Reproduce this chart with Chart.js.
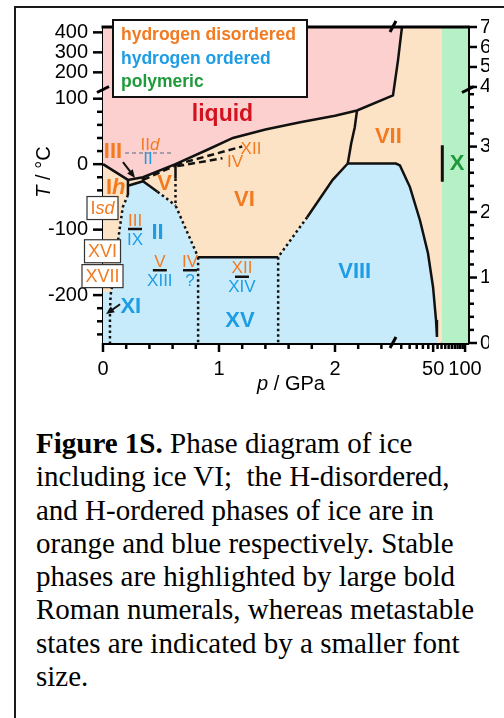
<!DOCTYPE html>
<html>
<head>
<meta charset="utf-8">
<script src="https://cdn.jsdelivr.net/npm/chart.js@4/dist/chart.umd.min.js"></script>
<style>
    html, body { margin: 0; padding: 0; background: #fff; overflow: hidden; }
    body { width: 504px; height: 718px; position: relative; }
    .frame { position: absolute; left: 14px; top: 6px; width: 600px; height: 800px;
        border-left: 2px solid #1a1a1a; border-top: 2px solid #1a1a1a; }
    #chart { position: absolute; left: 0; top: 0; }
    .caption { position: absolute; left: 36px; top: 427px; color: #000; white-space: nowrap;
        font-family: "Liberation Serif", "Times New Roman", serif; font-size: 29px; line-height: 33.3px; }
</style>
</head>
<body>
<div class="frame"></div>
<canvas id="chart" width="504" height="400"></canvas>
<div class="caption"><b>Figure 1S.</b> Phase diagram of ice<br>including ice VI;&nbsp; the H-disordered,<br>and H-ordered phases of ice are in<br>orange and blue respectively. Stable<br>phases are highlighted by large bold<br>Roman numerals, whereas metastable<br>states are indicated by a smaller font<br>size.</div>
<script>
// pressure in GPa, temperature in °C
const T_TOP = 426.85;      // 700 K
const T_BOTTOM = -273.15;  // 0 K

// melting curve (Ih, III, V, VI, VII)
const meltP = [0, 0.215, 0.345, 0.625, 0.9, 1.12, 1.4, 1.7, 2.0, 2.19, 2.5, 23.3, 25.4];
const meltT = [0, -24, -20, 0.2, 22, 40, 53, 64, 74, 82, 105, 260, 426.85];

// solid phase boundaries
const vi7P = [2.19, 2.17, 2.14, 2.11];
const vi7T = [82, 56, 32, 1];
const vii8P = [2.11, 22.3, 24.3, 30.2, 37.6, 44.7, 49.9, 53.2, 54.3];
const vii8T = [1, 1, -2, -35, -86, -136, -188, -238, -264];
const vi8P = [2.11, 1.98, 1.76];
const vi8T = [1, -24, -81];
const vi15P = [0.82, 1.51];
const vi15T = [-142, -142];
const v6P = [0.625, 0.625];
const v6T = [0.2, -22];
const ih3P = [0.215, 0.215];
const ih3T = [-24, -47];
const iii2P = [0.215, 0.345];
const iii2T = [-33, -26];
const iii5P = [0.345, 0.345];
const iii5T = [-20, -26];
const ii5P = [0.345, 0.47];
const ii5T = [-26, -42];

// dotted (uncertain) boundaries
const ih2DotP = [0.215, 0.17, 0.13, 0.09, 0.065, 0.06, 0.06];
const ih2DotT = [-47, -66, -116, -177, -200, -230, -273.15];
const ii5DotP = [0.47, 0.625];
const ii5DotT = [-42, -63];
const v6DotP = [0.625, 0.625, 0.82];
const v6DotT = [-22, -63, -142];
const vi8DotP = [1.76, 1.51];
const vi8DotT = [-81, -142];
const xv1P = [0.82, 0.82];
const xv1T = [-142, -273.15];
const xv2P = [1.51, 1.51];
const xv2T = [-142, -273.15];

// dashed (metastable) lines
const metaVP = [0.345, 0.625];
const metaVT = [-24, -2];
const metaXiiP = [0.625, 1.2];
const metaXiiT = [-1, 27];
const metaIvP = [0.64, 1.03];
const metaIvT = [-3, 9];
const iidP = [0.19, 0.6];
const iidT = [17, 17];

// ice X onset marker
const xBarP = [61, 61];
const xBarT = [29, -27];

// coloured phase fields
const baseP = [0, 0, 60, 60];
const baseT = [T_BOTTOM, T_TOP, T_TOP, T_BOTTOM];
const polyP = [60, 60, 110, 110];
const polyT = [T_BOTTOM, T_TOP, T_TOP, T_BOTTOM];
const liquidP = [0].concat(meltP);
const liquidT = [T_TOP].concat(meltT);
const orderedP = [0.215, 0.345, 0.47, 0.625, 0.82, 1.51, 1.76, 1.98, 2.11, 22.3, 24.3, 30.2, 37.6, 44.7,
    49.9, 53.2, 54.3, 54.4, 0, 0, 0.07, 0.09, 0.13, 0.17, 0.215];
const orderedT = [-33, -26, -42, -63, -142, -142, -81, -24, 1, 1, -2, -35, -86, -136,
    -188, -238, -264, -273.15, -273.15, -195, -195, -177, -116, -66, -47];

// axis ticks
const xMajor = [0, 1, 2, 50, 100];
const xMinor = [0.2, 0.4, 0.6, 0.8, 1.2, 1.4, 1.6, 1.8, 2.2, 2.4, 25, 30, 35, 40, 45, 55, 60, 65, 70, 75, 80, 85, 90, 95];
const yMajor = [-200, -100, 0, 100, 200, 300, 400];
const yMinor = [-260, -240, -220, -180, -160, -140, -120, -80, -60, -40, -20, 20, 40, 60, 80];
const kMajor = [0, 100, 200, 300, 400, 500, 600, 700];
const kMinor = [20, 40, 60, 80, 120, 140, 160, 180, 220, 240, 260, 280, 320, 340, 360, 380];

// broken axes: p linear up to 2.5 GPa then log from ~21 GPa, T squeezed above 114 °C
const P_BREAK = 2.5, P_LOG_START = 20.9, P_DECADE = 0.9138;
const T_BREAK = 114, T_SQUEEZE = 0.3053;
const toX = p => p <= P_BREAK ? p : P_BREAK + P_DECADE * Math.log10(p / P_LOG_START);
const toY = t => t <= T_BREAK ? t : T_BREAK + (t - T_BREAK) * T_SQUEEZE;
const X_MAX = 3.1466;

const ORANGE = '#f27a20';
const BLUE = '#1e9de4';
const GREEN = '#1f9a3a';
const RED = '#d3121f';
const SANS = '"Liberation Sans", Arial, sans-serif';
const BIG = `bold 22px ${SANS}`;
const BIG_IT = `italic bold 22px ${SANS}`;
const SMALL = `17px ${SANS}`;
const SMALL_IT = `italic 17px ${SANS}`;
const BOX = `18px ${SANS}`;
const BOX_IT = `italic 18px ${SANS}`;

const phaseLabels = [
    {runs: [['liquid', `bold 23px ${SANS}`]], p: 1.03, t: 76, color: RED},
    {runs: [['VI', BIG]], p: 1.22, t: -55, color: ORANGE},
    {runs: [['V', BIG]], p: 0.53, t: -30, color: ORANGE},
    {runs: [['VII', BIG]], p: 2.46, t: 41, color: ORANGE},
    {runs: [['VIII', BIG]], p: 2.17, t: -165, color: BLUE},
    {runs: [['XV', BIG]], p: 1.18, t: -240, color: BLUE},
    {runs: [['II', BIG]], p: 0.47, t: -105, color: BLUE},
    {runs: [['XI', BIG]], p: 0.24, t: -218, color: BLUE},
    {runs: [['X', BIG]], p: 84, t: 0, color: GREEN},
    {runs: [['III', BIG]], p: 0.086, t: 18, color: ORANGE},
    {runs: [['I', BIG], ['h', BIG_IT]], p: 0.11, t: -37, color: ORANGE},
    {runs: [['II', SMALL], ['d', SMALL_IT]], p: 0.405, t: 29, color: ORANGE},
    {runs: [['II', SMALL]], p: 0.388, t: 7, color: BLUE},
    {runs: [['XII', SMALL]], p: 1.276, t: 23, color: ORANGE},
    {runs: [['IV', SMALL]], p: 1.138, t: 3, color: ORANGE}
];

const pairLabels = [
    {top: 'III', bottom: 'IX', p: 0.276, t: -99},
    {top: 'V', bottom: 'XIII', p: 0.49, t: -162},
    {top: 'IV', bottom: '?', p: 0.75, t: -162},
    {top: 'XII', bottom: 'XIV', p: 1.198, t: -172}
];

const boxedLabels = [
    {runs: [['I', BOX], ['sd', BOX_IT]], t: -67},
    {runs: [['XVI', BOX]], t: -133},
    {runs: [['XVII', BOX]], t: -171}
];

const arrows = [
    {p1: 0.172, t1: 3, p2: 0.276, t2: -21},
    {p1: 0.147, t1: -214, p2: 0.026, t2: -229}
];

const legendItems = [['hydrogen disordered', ORANGE], ['hydrogen ordered', BLUE], ['polymeric', GREEN]];

const pts = (ps, ts) => ps.map((p, i) => ({x: toX(p), y: toY(ts[i])}));

function region(ps, ts, color, order) {
    return {data: pts(ps, ts), showLine: true, fill: 'shape', backgroundColor: color,
        borderColor: 'rgba(0,0,0,0)', borderWidth: 0, pointRadius: 0, order: order};
}

function boundary(ps, ts, style, width = 2.5) {
    const dash = style === 'dotted' ? [2.5, 3] : style === 'dashed' ? [7, 4] : [];
    return {data: pts(ps, ts), showLine: true, fill: false, borderColor: '#111', borderWidth: width,
        borderDash: dash, pointRadius: 0, order: 0};
}

function drawRuns(ctx, runs, cx, cy, color) {
    let width = 0;
    runs.forEach(([s, f]) => { ctx.font = f; width += ctx.measureText(s).width; });
    let x = cx - width / 2;
    ctx.fillStyle = color;
    ctx.textAlign = 'left';
    ctx.textBaseline = 'middle';
    runs.forEach(([s, f]) => {
        ctx.font = f;
        ctx.fillText(s, x, cy);
        x += ctx.measureText(s).width;
    });
    return width;
}

function segment(ctx, x1, y1, x2, y2) {
    ctx.beginPath();
    ctx.moveTo(x1, y1);
    ctx.lineTo(x2, y2);
    ctx.stroke();
}

function arrow(ctx, x1, y1, x2, y2) {
    const ang = Math.atan2(y2 - y1, x2 - x1);
    ctx.lineWidth = 2;
    segment(ctx, x1, y1, x2 - 5 * Math.cos(ang), y2 - 5 * Math.sin(ang));
    ctx.beginPath();
    ctx.moveTo(x2, y2);
    ctx.lineTo(x2 - 9 * Math.cos(ang - 0.4), y2 - 9 * Math.sin(ang - 0.4));
    ctx.lineTo(x2 - 9 * Math.cos(ang + 0.4), y2 - 9 * Math.sin(ang + 0.4));
    ctx.closePath();
    ctx.fill();
}

const decorPlugin = {
    id: 'decor',
    afterDraw(chart) {
        const {ctx, chartArea: a, scales} = chart;
        const px = p => scales.x.getPixelForValue(toX(p));
        const py = t => scales.y.getPixelForValue(toY(t));
        ctx.save();
        ctx.strokeStyle = '#000';
        ctx.fillStyle = '#000';

        // top frame line
        ctx.lineWidth = 3;
        segment(ctx, a.left - 1.5, a.top, a.right + 1.5, a.top);

        // tick marks
        ctx.lineWidth = 2.5;
        xMajor.forEach(p => segment(ctx, px(p), a.bottom, px(p), a.bottom + 9));
        xMinor.forEach(p => segment(ctx, px(p), a.bottom, px(p), a.bottom + 6));
        yMajor.forEach(t => segment(ctx, a.left, py(t), a.left - 10, py(t)));
        yMinor.forEach(t => segment(ctx, a.left, py(t), a.left - 6, py(t)));
        kMajor.forEach(k => segment(ctx, a.right, py(k - 273.15), a.right + 9, py(k - 273.15)));
        kMinor.forEach(k => segment(ctx, a.right, py(k - 273.15), a.right + 6, py(k - 273.15)));

        // axis break marks
        ctx.lineWidth = 3;
        const bx = px(P_BREAK), by = py(T_BREAK);
        segment(ctx, bx - 3, a.top + 5, bx + 3, a.top - 6);
        segment(ctx, bx - 3, a.bottom + 5, bx + 3, a.bottom - 6);
        segment(ctx, a.left - 6, by + 3, a.left + 6, by - 3);
        segment(ctx, a.right - 6, by + 3, a.right + 6, by - 3);

        // the right-hand labels are cut by the figure edge
        ctx.fillStyle = '#fff';
        ctx.fillRect(489, 12, 15, 350);

        // axis titles
        ctx.save();
        ctx.translate(44, 172);
        ctx.rotate(-Math.PI / 2);
        drawRuns(ctx, [['T', `italic 20px ${SANS}`], [' / °C', `20px ${SANS}`]], 0, 0, '#000');
        ctx.restore();
        drawRuns(ctx, [['p', `italic 20px ${SANS}`], [' / GPa', `20px ${SANS}`]], 291, 384, '#000');

        // phase names
        phaseLabels.forEach(l => drawRuns(ctx, l.runs, px(l.p), py(l.t), l.color));

        // metastable pairs: disordered over ordered
        pairLabels.forEach(l => {
            const x = px(l.p), y = py(l.t);
            drawRuns(ctx, [[l.top, SMALL]], x, y - 8, ORANGE);
            drawRuns(ctx, [[l.bottom, SMALL]], x, y + 11, BLUE);
            ctx.strokeStyle = '#111';
            ctx.lineWidth = 2.5;
            segment(ctx, x - 7, y, x + 7, y);
        });

        // boxed low-pressure forms on the T axis
        boxedLabels.forEach(l => {
            const y = py(l.t);
            ctx.font = BOX;
            let w = 0;
            l.runs.forEach(([s, f]) => { ctx.font = f; w += ctx.measureText(s).width; });
            const bw = w + 7, bh = 23, cx = a.left - 0.5;
            ctx.fillStyle = '#fff';
            ctx.fillRect(cx - bw / 2, y - bh / 2, bw, bh);
            ctx.strokeStyle = '#333';
            ctx.lineWidth = 1.2;
            ctx.strokeRect(cx - bw / 2, y - bh / 2, bw, bh);
            drawRuns(ctx, l.runs, cx, y + 1, ORANGE);
        });

        // arrows
        ctx.strokeStyle = '#111';
        ctx.fillStyle = '#111';
        arrows.forEach(r => arrow(ctx, px(r.p1), py(r.t1), px(r.p2), py(r.t2)));

        // legend box
        const lx = a.left + 10, ly = a.top - 7;
        ctx.fillStyle = '#fff';
        ctx.fillRect(lx, ly, 194, 77);
        ctx.strokeStyle = '#111';
        ctx.lineWidth = 2;
        ctx.strokeRect(lx, ly, 194, 77);
        ctx.font = `bold 17.5px ${SANS}`;
        ctx.textAlign = 'left';
        ctx.textBaseline = 'alphabetic';
        legendItems.forEach(([label, color], i) => {
            ctx.fillStyle = color;
            ctx.fillText(label, lx + 8, ly + 20 + i * 23.5);
        });

        ctx.restore();
    }
};

const axisFont = {family: SANS, size: 20};

new Chart(document.getElementById('chart'), {
    type: 'scatter',
    data: {
        datasets: [
            region(baseP, baseT, '#fde3c6', 10),
            region(polyP, polyT, '#b6f0c6', 9),
            region(liquidP, liquidT, '#fdd0d0', 8),
            region(orderedP, orderedT, '#c8ebfb', 7),
            boundary(meltP, meltT, 'solid'),
            boundary(vi7P, vi7T, 'solid'),
            boundary(vii8P, vii8T, 'solid'),
            boundary(vi8P, vi8T, 'solid'),
            boundary(vi15P, vi15T, 'solid'),
            boundary(v6P, v6T, 'solid'),
            boundary(ih3P, ih3T, 'solid'),
            boundary(iii2P, iii2T, 'solid'),
            boundary(iii5P, iii5T, 'solid'),
            boundary(ii5P, ii5T, 'solid'),
            boundary(ih2DotP, ih2DotT, 'dotted'),
            boundary(ii5DotP, ii5DotT, 'dotted'),
            boundary(v6DotP, v6DotT, 'dotted'),
            boundary(vi8DotP, vi8DotT, 'dotted'),
            boundary(xv1P, xv1T, 'dotted'),
            boundary(xv2P, xv2T, 'dotted'),
            boundary(metaVP, metaVT, 'dashed'),
            boundary(metaXiiP, metaXiiT, 'dashed'),
            boundary(metaIvP, metaIvT, 'dashed'),
            {...boundary(iidP, iidT, 'dashed', 1.5), borderColor: '#8a8a9a', borderDash: [4, 3]},
            boundary(xBarP, xBarT, 'solid', 3)
        ]
    },
    options: {
        responsive: false,
        animation: false,
        events: [],
        layout: {padding: {top: 27, left: 0, right: 0, bottom: 0}},
        plugins: {
            legend: {display: false},
            tooltip: {enabled: false}
        },
        scales: {
            x: {
                type: 'linear', position: 'bottom', min: 0, max: X_MAX, z: 1,
                grid: {display: false, drawTicks: false},
                border: {display: true, width: 3, color: '#000'},
                afterBuildTicks: s => { s.ticks = xMajor.map(p => ({value: toX(p)})); },
                afterFit: s => { s.height = 57; },
                ticks: {autoSkip: false, maxRotation: 0, padding: 14, color: '#000', font: axisFont,
                    callback: (v, i) => String(xMajor[i])}
            },
            y: {
                type: 'linear', position: 'left', min: toY(T_BOTTOM), max: toY(T_TOP), z: 1,
                grid: {display: false, drawTicks: false},
                border: {display: true, width: 3, color: '#000'},
                afterBuildTicks: s => { s.ticks = yMajor.map(t => ({value: toY(t)})); },
                afterFit: s => { s.width = 103; },
                ticks: {autoSkip: false, padding: 15, color: '#000', font: axisFont,
                    callback: (v, i) => String(yMajor[i])}
            },
            y2: {
                type: 'linear', position: 'right', min: toY(T_BOTTOM), max: toY(T_TOP), z: 1,
                grid: {display: false, drawTicks: false},
                border: {display: true, width: 3, color: '#000'},
                afterBuildTicks: s => { s.ticks = kMajor.map(k => ({value: toY(k - 273.15)})); },
                afterFit: s => { s.width = 36; },
                ticks: {autoSkip: false, padding: 12, color: '#000', font: axisFont,
                    callback: (v, i) => String(kMajor[i] / 100)}
            }
        }
    },
    plugins: [decorPlugin]
});
</script>
</body>
</html>
